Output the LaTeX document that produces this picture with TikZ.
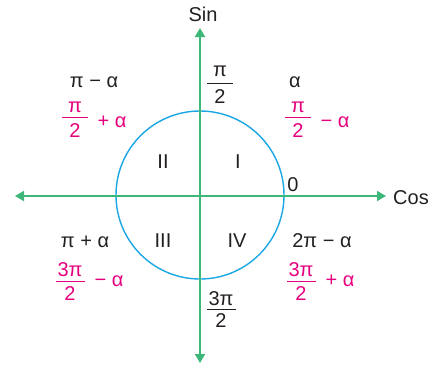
\documentclass[tikz,border=0pt]{standalone}
\usepackage{fontspec}
\setmainfont{Liberation Sans}
\usetikzlibrary{arrows.meta}
\definecolor{axgreen}{HTML}{3DB878}
\definecolor{cblue}{HTML}{1AA7E4}
\definecolor{mag}{HTML}{E6007E}
\definecolor{ink}{HTML}{231F20}
\tikzset{
  lab/.style={anchor=base,inner sep=0pt,text=ink,font=\fontsize{20}{24}\selectfont},
  plab/.style={lab,text=mag},
  axis/.style={draw=axgreen,line width=1.8pt,{Triangle[length=9pt,width=10pt]}-{Triangle[length=9pt,width=10pt]}},
  bar/.style={draw=ink,line width=1pt},
  pbar/.style={draw=mag,line width=1pt}
}
\begin{document}
\begin{tikzpicture}[x=1pt,y=-1pt]
\useasboundingbox (0,0) rectangle (446,368);
% circle
\node[draw=cblue,line width=1.4pt,circle,minimum size=168pt,inner sep=0pt] (circ) at (200,195) {};
% axes
\coordinate (top) at (200,28);
\coordinate (bot) at (200,363);
\coordinate (lft) at (15,196);
\coordinate (rgt) at (386,196);
\draw[axis] (bot) -- (top);
\draw[axis] (lft) -- (rgt);
% axis labels
\node[lab] (sin) at (203,21) {Sin};
\node[lab] (cos) at (411,204) {Cos};
% quadrant numerals
\node[lab] (q2) at (163,168) {II};
\node[lab] (q1) at (238,168) {I};
\node[lab] (q3) at (163,247) {III};
\node[lab] (q4) at (237,247) {IV};
\node[lab] (zero) at (293,191) {0};
% pi/2 black
\node[lab] (n1) at (220,76) {π};
\draw[bar] (207,83) -- (233,83);
\node[lab] (d1) at (220,103) {2};
% 3pi/2 black
\node[lab] (n2) at (221,305) {3π};
\draw[bar] (207,309) -- (236,309);
\node[lab] (d2) at (221,327) {2};
% quadrant I
\node[lab] (a1) at (295,87) {α};
\node[plab] (n3) at (298,112) {π};
\draw[pbar] (285,117) -- (311,117);
\node[plab] (d3) at (298,137) {2};
\node[plab] (m3) at (335,127) {− α};
% quadrant II
\node[lab] (a2) at (94,87) {π − α};
\node[plab] (n4) at (75,112) {π};
\draw[pbar] (62,117) -- (88,117);
\node[plab] (d4) at (75,137) {2};
\node[plab] (m4) at (112,127) {+ α};
% quadrant III
\node[lab] (a3) at (85,247) {π + α};
\node[plab] (n5) at (70,276) {3π};
\draw[pbar] (56,281) -- (85,281);
\node[plab] (d5) at (70,300) {2};
\node[plab] (m5) at (109,286) {− α};
% quadrant IV
\node[lab] (a4) at (322,247) {2π − α};
\node[plab] (n6) at (301,276) {3π};
\draw[pbar] (287,281) -- (316,281);
\node[plab] (d6) at (301,300) {2};
\node[plab] (m6) at (340,286) {+ α};
\end{tikzpicture}
\end{document}
